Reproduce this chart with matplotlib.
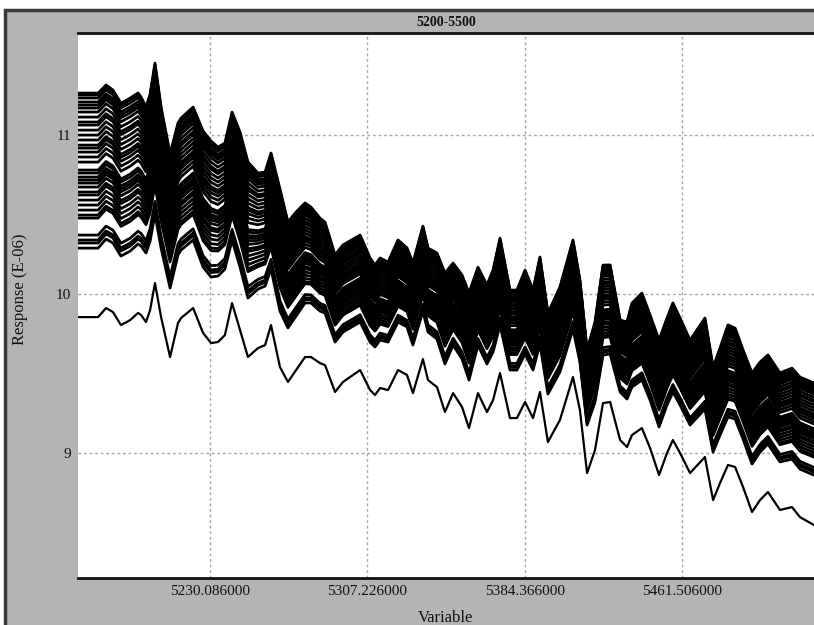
import numpy as np
import matplotlib.pyplot as plt
from matplotlib.patches import Rectangle

# 波長（Variable）取樣點
wavelength = [5165.4, 5175.2, 5179.1, 5182.5, 5186.4, 5190.9, 5194.8, 5196.3, 5198.7, 5200.7,
              5203.1, 5206.1, 5210.5, 5214.4, 5215.9, 5221.8, 5226.7, 5230.6, 5234.0, 5237.4,
              5240.9, 5244.8, 5248.7, 5253.6, 5257.1, 5260.0, 5264.4, 5268.3, 5272.3, 5276.7,
              5279.6, 5284.0, 5286.5, 5291.4, 5295.3, 5303.7, 5308.6, 5311.0, 5313.5, 5317.4,
              5322.3, 5326.7, 5329.6, 5334.5, 5337.0, 5341.4, 5345.3, 5349.3, 5353.7, 5357.1,
              5361.5, 5365.9, 5368.9, 5372.3, 5377.2, 5380.6, 5384.6, 5388.5, 5391.9, 5395.8,
              5401.7, 5408.1, 5411.5, 5415.0, 5418.9, 5422.8, 5426.3, 5431.2, 5434.6, 5437.0,
              5441.9, 5445.9, 5450.3, 5454.2, 5457.1, 5460.6, 5465.5, 5472.8, 5476.8, 5480.2,
              5484.1, 5487.6, 5491.5, 5495.9, 5499.8, 5503.7, 5509.6, 5515.5, 5519.4, 5526.3]

# 最下方單獨的一條曲線
bottom_line = [9.855, 9.855, 9.912, 9.887, 9.805, 9.836, 9.881, 9.868, 9.824, 9.899,
               10.069, 9.855, 9.604, 9.818, 9.849, 9.912, 9.755, 9.692, 9.698, 9.742,
               9.943, 9.774, 9.604, 9.660, 9.679, 9.805, 9.541, 9.447, 9.522, 9.604,
               9.604, 9.566, 9.553, 9.384, 9.447, 9.522, 9.396, 9.365, 9.409, 9.396,
               9.522, 9.491, 9.377, 9.591, 9.459, 9.415, 9.258, 9.377, 9.289, 9.157,
               9.377, 9.258, 9.333, 9.503, 9.220, 9.220, 9.321, 9.220, 9.384, 9.069,
               9.208, 9.478, 9.270, 8.874, 9.019, 9.314, 9.321, 9.082, 9.038, 9.113,
               9.157, 9.031, 8.862, 9.000, 9.082, 9.000, 8.874, 8.975, 8.704, 8.811,
               8.925, 8.912, 8.786, 8.629, 8.704, 8.755, 8.642, 8.660, 8.597, 8.547]

# 密集曲線群的最上一條
band_top = [11.264, 11.264, 11.315, 11.283, 11.201, 11.232, 11.265, 11.239, 11.176, 11.257,
            11.453, 11.176, 10.881, 11.076, 11.107, 11.176, 11.025, 10.962, 10.924, 10.950,
            11.144, 11.019, 10.830, 10.761, 10.767, 10.887, 10.660, 10.453, 10.516, 10.573,
            10.547, 10.478, 10.452, 10.246, 10.309, 10.371, 10.226, 10.183, 10.227, 10.201,
            10.340, 10.290, 10.195, 10.427, 10.289, 10.258, 10.132, 10.195, 10.119, 10.006,
            10.169, 10.057, 10.151, 10.352, 10.025, 10.025, 10.151, 10.025, 10.233, 9.880,
            10.044, 10.340, 10.088, 9.648, 9.824, 10.182, 10.183, 9.837, 9.824, 9.943,
            10.006, 9.867, 9.711, 9.849, 9.944, 9.849, 9.710, 9.849, 9.540, 9.660,
            9.806, 9.786, 9.648, 9.503, 9.572, 9.617, 9.504, 9.534, 9.478, 9.440]

# 密集曲線群的最下一條
band_low = [10.289, 10.289, 10.346, 10.321, 10.239, 10.270, 10.315, 10.302, 10.258, 10.333,
            10.503, 10.289, 10.038, 10.246, 10.277, 10.340, 10.170, 10.107, 10.113, 10.157,
            10.339, 10.170, 9.975, 10.031, 10.050, 10.157, 9.893, 9.787, 9.862, 9.944,
            9.944, 9.893, 9.880, 9.698, 9.761, 9.824, 9.698, 9.667, 9.711, 9.698,
            9.824, 9.793, 9.679, 9.893, 9.761, 9.717, 9.560, 9.679, 9.591, 9.459,
            9.679, 9.560, 9.635, 9.805, 9.522, 9.522, 9.623, 9.522, 9.686, 9.371,
            9.510, 9.780, 9.572, 9.176, 9.321, 9.616, 9.623, 9.384, 9.340, 9.415,
            9.459, 9.333, 9.164, 9.302, 9.384, 9.302, 9.176, 9.277, 9.006, 9.113,
            9.227, 9.214, 9.088, 8.931, 9.006, 9.057, 8.944, 8.962, 8.899, 8.861]

# 各曲線在左端的起始值
start_levels = [11.264, 11.252, 11.233, 11.208, 11.189, 11.170, 11.145, 11.113, 11.082, 11.063,
                11.031, 11.000, 10.969, 10.937, 10.918, 10.893, 10.862, 10.830, 10.780, 10.761,
                10.736, 10.717, 10.698, 10.673, 10.642, 10.623, 10.591, 10.560, 10.528, 10.497,
                10.478, 10.371, 10.340, 10.321, 10.289]

x_ticks = [5230.086, 5307.226, 5384.366, 5461.506]
x_ticklabels = ["5230.086000", "5307.226000", "5384.366000", "5461.506000"]
y_ticks = [9, 10, 11]

x = np.array(wavelength)
top = np.array(band_top)
low = np.array(band_low)

fig = plt.figure(figsize=(8.14, 6.25), dpi=100)
fig.patch.set_facecolor('white')

# 灰色視窗外框（放在最底層）
bg = fig.add_axes([0, 0, 1, 1], zorder=-10)
bg.set_xlim(0, 814)
bg.set_ylim(625, 0)
bg.axis('off')
bg.add_patch(Rectangle((5, 10), 820, 630, facecolor='#b4b4b4', edgecolor='#3a3a3a', linewidth=2.5))
bg.text(446, 22, "5200-5500", ha='center', va='center',
        fontsize=10, family='Liberation Serif', fontweight='bold', color='#111111')

ax = fig.add_axes([78 / 814, 47 / 625, 736 / 814, 545 / 625], zorder=1)
ax.set_facecolor('white')

# 曲線群
for lv in start_levels:
    w = (lv - low[0]) / (top[0] - low[0])
    ax.plot(x, low + w * (top - low), color='black', linewidth=2.0)

ax.plot(x, bottom_line, color='black', linewidth=1.6)

ax.set_xlim(5165.35, 5526.29)
ax.set_ylim(8.214, 11.642)
ax.set_xticks(x_ticks)
ax.set_xticklabels(x_ticklabels)
ax.set_yticks(y_ticks)
ax.tick_params(length=0, pad=5, labelsize=11, labelcolor='#111111')
for lab in ax.get_xticklabels() + ax.get_yticklabels():
    lab.set_family('Liberation Serif')

ax.grid(True, color='#a8a8a8', linestyle=(0, (2, 2)), linewidth=1)
ax.set_axisbelow(True)

for side in ['left', 'right']:
    ax.spines[side].set_visible(False)
for side in ['top', 'bottom']:
    ax.spines[side].set_linewidth(2)
    ax.spines[side].set_color('#111111')

ax.set_xlabel("Variable", family='Liberation Serif', fontsize=12, color='#111111')
ax.set_ylabel("Response (E-06)", family='Liberation Serif', fontsize=12, color='#111111')
ax.xaxis.set_label_coords(0.499, -0.058)
ax.yaxis.set_label_coords(-0.068, 0.53)

plt.savefig("out.png", dpi=100)
